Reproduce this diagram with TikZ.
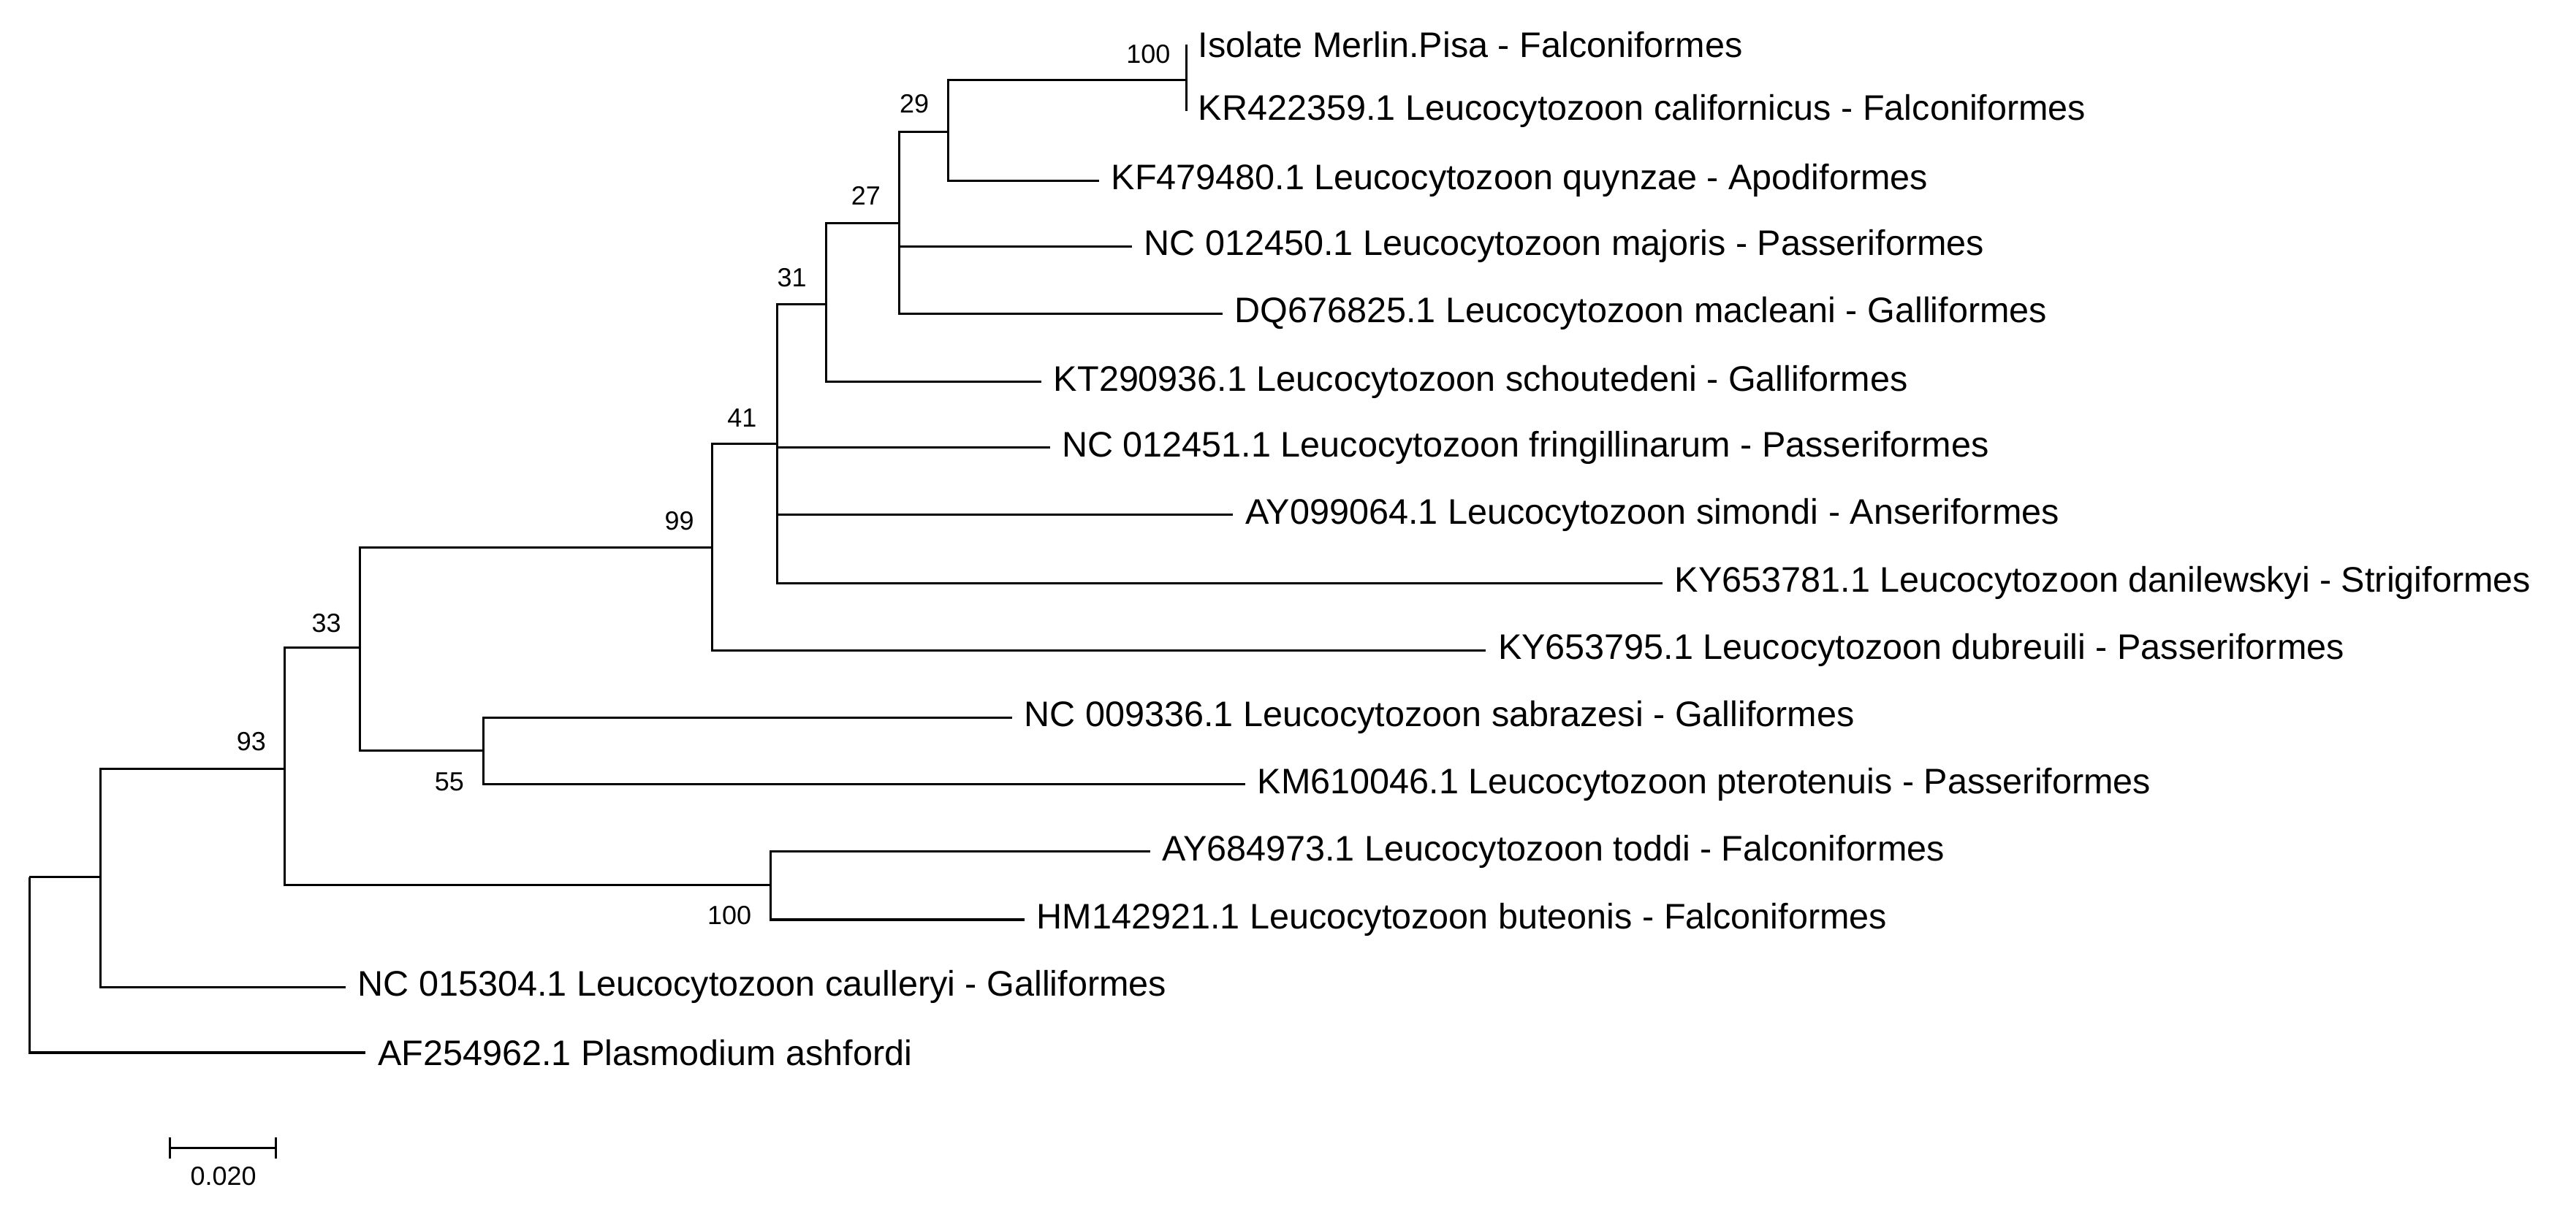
\documentclass[tikz,border=0pt]{standalone}
\usepackage{fontspec}
\setmainfont{Liberation Sans}
\tikzset{
 br/.style={line width=0.7pt},
 leaf/.style={anchor=west,inner xsep=3.5pt,inner ysep=0pt,font=\fontsize{10.8}{11}\selectfont},
 bs/.style={inner sep=0pt,font=\fontsize{8}{9}\selectfont}
}
\begin{document}
\begin{tikzpicture}[x=0.5pt,y=-0.5pt]
\useasboundingbox (0,0) rectangle (1568,741);
% internal nodes (x, stem y)
\coordinate (R) at (18,534);
\coordinate (A) at (61.3,534);
\coordinate (B) at (173.2,468);
\coordinate (C) at (219,394.5);
\coordinate (D) at (433.3,333.3);
\coordinate (E) at (473,270.1);
\coordinate (F) at (503,185.3);
\coordinate (G) at (547.4,135.8);
\coordinate (H) at (577,80.2);
\coordinate (I) at (722,48.7);
\coordinate (N55) at (294.4,457.2);
\coordinate (T) at (469,538.7);
% leaves
\node[leaf] (l1) at (722,27) {Isolate Merlin.Pisa - Falconiformes};
\node[leaf] (l2) at (722,67.5) {KR422359.1 Leucocytozoon californicus - Falconiformes};
\node[leaf] (l3) at (669,110) {KF479480.1 Leucocytozoon quynzae - Apodiformes};
\node[leaf] (l4) at (689,150) {NC 012450.1 Leucocytozoon majoris - Passeriformes};
\node[leaf] (l5) at (744,191) {DQ676825.1 Leucocytozoon macleani - Galliformes};
\node[leaf] (l6) at (634,232.4) {KT290936.1 Leucocytozoon schoutedeni - Galliformes};
\node[leaf] (l7) at (639,272.5) {NC 012451.1 Leucocytozoon fringillinarum - Passeriformes};
\node[leaf] (l8) at (750.6,313.5) {AY099064.1 Leucocytozoon simondi - Anseriformes};
\node[leaf] (l9) at (1012,355) {KY653781.1 Leucocytozoon danilewskyi - Strigiformes};
\node[leaf] (l10) at (904.5,396) {KY653795.1 Leucocytozoon dubreuili - Passeriformes};
\node[leaf] (l11) at (616,437) {NC 009336.1 Leucocytozoon sabrazesi - Galliformes};
\node[leaf] (l12) at (758,477.5) {KM610046.1 Leucocytozoon pterotenuis - Passeriformes};
\node[leaf] (l13) at (700,518.5) {AY684973.1 Leucocytozoon toddi - Falconiformes};
\node[leaf] (l14) at (623.7,560) {HM142921.1 Leucocytozoon buteonis - Falconiformes};
\node[leaf] (l15) at (210.4,601) {NC 015304.1 Leucocytozoon caulleryi - Galliformes};
\node[leaf] (l16) at (222.6,641) {AF254962.1 Plasmodium ashfordi};
% branches
\draw[br] (I) -- (722,27) (I) -- (722,67.5);
\draw[br] (H) |- (I) (H) |- (l3.west);
\draw[br] (G) |- (H) (G) |- (l4.west) (G) |- (l5.west);
\draw[br] (F) |- (G) (F) |- (l6.west);
\draw[br] (E) |- (F) (E) |- (l7.west) (E) |- (l8.west) (E) |- (l9.west);
\draw[br] (D) |- (E) (D) |- (l10.west);
\draw[br] (N55) |- (l11.west) (N55) |- (l12.west);
\draw[br] (C) |- (D) (C) |- (N55);
\draw[br] (T) |- (l13.west) (T) |- (l14.west);
\draw[br] (B) |- (C) (B) |- (T);
\draw[br] (A) |- (B) (A) |- (l15.west);
\draw[br] (R) -- (A) (R) |- (l16.west);
% bootstrap
\node[bs] (b1) at (699,33) {100};
\node[bs] (b2) at (556.5,63) {29};
\node[bs] (b3) at (527,119) {27};
\node[bs] (b4) at (482,169) {31};
\node[bs] (b5) at (451.7,254.6) {41};
\node[bs] (b6) at (413.5,317) {99};
\node[bs] (b7) at (198.7,379.5) {33};
\node[bs] (b8) at (153,451.5) {93};
\node[bs] (b9) at (273.5,476) {55};
\node[bs] (b10) at (444,557.6) {100};
% scale bar
\coordinate (s1) at (103.5,699);
\coordinate (s2) at (168,699);
\draw[br] (s1) -- (s2) ([yshift=3.25pt]s1) -- ([yshift=-3.25pt]s1) ([yshift=3.25pt]s2) -- ([yshift=-3.25pt]s2);
\node[bs] (sl) at (136,716) {0.020};
\end{tikzpicture}
\end{document}
